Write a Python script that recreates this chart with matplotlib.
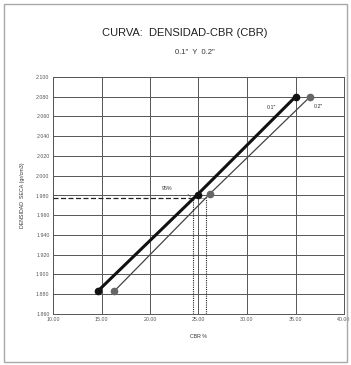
import matplotlib
matplotlib.use("Agg")
import matplotlib.pyplot as plt
from matplotlib.patches import Rectangle

plt.rcParams['font.family'] = ['Liberation Sans', 'DejaVu Sans']

# Data
cbr_01 = [14.6, 24.9, 35.0]
den_01 = [1.883, 1.981, 2.080]
cbr_02 = [16.3, 26.2, 36.5]
den_02 = [1.883, 1.982, 2.080]
den_95 = 1.977
cbr_95_01 = 24.4
cbr_95_02 = 25.8
x_ticks = [10, 15, 20, 25, 30, 35, 40]
y_ticks = [1.860, 1.880, 1.900, 1.920, 1.940, 1.960, 1.980, 2.000, 2.020, 2.040, 2.060, 2.080, 2.100]

fig = plt.figure(figsize=(3.51, 3.65), dpi=100)
fig.patch.set_facecolor('white')
fig.add_artist(Rectangle((4/351, 1-362/365), 343/351, 358/365, transform=fig.transFigure,
                         fill=False, edgecolor='#a8a8a8', linewidth=1.0))

ax = fig.add_axes([53/351, 1-314/365, 291/351, 237/365])
ax.set_xlim(10, 40)
ax.set_ylim(1.860, 2.100)
ax.set_xticks(x_ticks)
ax.set_yticks(y_ticks)
ax.set_xticklabels([f"{v:.2f}" for v in x_ticks], fontsize=3.8, color='#555555')
ax.set_yticklabels([f"{v:.3f}" for v in y_ticks], fontsize=3.8, color='#555555')
ax.tick_params(length=0, pad=2.5)
ax.grid(True, color='#555555', linewidth=0.7)
for s in ax.spines.values():
    s.set_color('#555555')
    s.set_linewidth(0.7)

# 95% reference lines
ax.plot([10, cbr_95_01], [den_95, den_95], color='#222222', linestyle=(0, (4, 2)), linewidth=0.9, zorder=3)
ax.plot([cbr_95_01, cbr_95_01], [1.860, den_95], color='#222222', linestyle=(0, (1, 1)), linewidth=0.8, zorder=3)
ax.plot([cbr_95_02, cbr_95_02], [1.860, den_95], color='#222222', linestyle=(0, (1, 1)), linewidth=0.8, zorder=3)
ax.plot([cbr_95_01, cbr_95_02], [den_95, den_95], color='#666666', linewidth=0.4, zorder=3)
ax.annotate("", xy=(cbr_95_01, den_95), xytext=(23.7, 1.983),
            arrowprops=dict(arrowstyle='-', color='#444444', linewidth=0.5))
ax.text(21.8, 1.9866, "95%", fontsize=3.8, color='#333333', ha='center', va='center')

# Curves
ax.plot(cbr_02, den_02, color='#444444', linewidth=0.9, marker='o', markersize=4.5,
        markerfacecolor='#666666', markeredgecolor='#666666', zorder=4)
ax.plot(cbr_01, den_01, color='#111111', linewidth=2.2, marker='o', markersize=4.5,
        markerfacecolor='#111111', markeredgecolor='#111111', zorder=5)

ax.text(32.5, 2.0696, '0.1"', fontsize=3.8, color='#333333', ha='center', va='center')
ax.text(37.4, 2.0700, '0.2"', fontsize=3.8, color='#333333', ha='center', va='center')

ax.set_xlabel("CBR %", fontsize=3.8, color='#333333', labelpad=8)
ax.set_ylabel("DENSIDAD  SECA (gr/cm3)", fontsize=3.8, color='#333333', labelpad=8)

fig.text(185/351, 1-33/365, "CURVA:  DENSIDAD-CBR (CBR)", fontsize=8, ha='center', va='center', color='#222222')
fig.text(195/351, 1-52/365, '0.1"  Y  0.2"', fontsize=5.5, ha='center', va='center', color='#333333')

fig.savefig("out.png", dpi=100, facecolor='white')
